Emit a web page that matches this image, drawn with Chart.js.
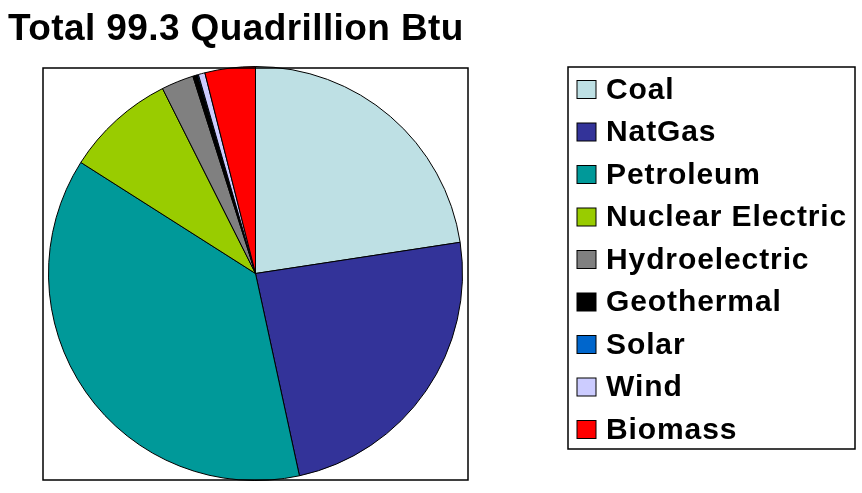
<!DOCTYPE html>
<html lang="en">
  <head>
    <meta charset="UTF-8" />
    <title>Total 99.3 Quadrillion Btu</title>
    <script src="https://cdn.jsdelivr.net/npm/chart.js"></script>
    <style>
      html, body { margin: 0; padding: 0; background: #fff; }
      .wrap { width: 862px; height: 493px; position: relative; }
    </style>
  </head>
  <body>
    <div class="wrap">
      <canvas id="energyPie"></canvas>
    </div>

    <script>
      // data, quadrillion Btu
      const titleText = "Total 99.3 Quadrillion Btu";
      const sources = ["Coal", "NatGas", "Petroleum", "Nuclear Electric", "Hydroelectric", "Geothermal", "Solar", "Wind", "Biomass"];
      const values = [22.4, 23.8, 37.1, 8.5, 2.5, 0.35, 0.09, 0.51, 3.9];
      const colors = ["#bee0e4", "#333399", "#009999", "#99cc00", "#808080", "#000000", "#0066cc", "#ccccff", "#ff0000"];

      // frames, title and legend drawn by hand to match the excel look
      const decorations = {
        id: "decorations",
        afterDraw(chart) {
          const ctx = chart.ctx;
          ctx.save();

          // title
          ctx.fillStyle = "#000";
          ctx.font = "bold 37px 'Liberation Sans', Arial, sans-serif";
          ctx.letterSpacing = "0.4px";
          ctx.textBaseline = "alphabetic";
          ctx.fillText(titleText, 8, 40);

          // plot area frame
          ctx.lineWidth = 1.5;
          ctx.strokeStyle = "#000";
          ctx.strokeRect(43, 68, 425, 412);

          // legend frame
          ctx.strokeRect(568, 67, 287, 382);

          // legend entries
          ctx.font = "bold 30px 'Liberation Sans', Arial, sans-serif";
          ctx.letterSpacing = "0.9px";
          ctx.lineWidth = 1;
          sources.forEach((name, i) => {
            const top = 80.5 + i * 42.5;
            ctx.fillStyle = colors[i];
            ctx.fillRect(577, top, 19, 18);
            ctx.strokeStyle = "#000";
            ctx.strokeRect(577, top, 19, 18);
            ctx.fillStyle = "#000";
            ctx.fillText(name, 606, top + 18);
          });

          ctx.restore();
        },
      };

      const ctxPie = document.getElementById("energyPie").getContext("2d");
      new Chart(ctxPie, {
        type: "pie",
        data: {
          labels: sources,
          datasets: [
            {
              data: values,
              backgroundColor: colors,
              borderColor: "#000",
              borderWidth: 1,
            },
          ],
        },
        options: {
          responsive: true,
          maintainAspectRatio: false,
          animation: false,
          layout: {
            padding: { left: 43, top: 66, right: 394, bottom: 12 },
          },
          plugins: {
            legend: { display: false },
            tooltip: { enabled: false },
          },
        },
        plugins: [decorations],
      });
    </script>
  </body>
</html>
